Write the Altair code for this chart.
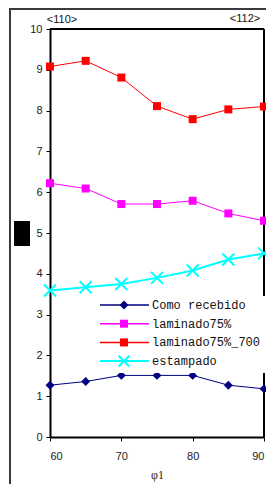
import altair as alt
import pandas as pd

phi1 = [60, 65, 70, 75, 80, 85, 90]
como_recebido = [1.27, 1.36, 1.51, 1.51, 1.51, 1.27, 1.18]
laminado75 = [6.22, 6.09, 5.71, 5.71, 5.79, 5.48, 5.30]
laminado75_700 = [9.08, 9.22, 8.81, 8.11, 7.79, 8.03, 8.10]
estampado = [3.59, 3.67, 3.75, 3.90, 4.08, 4.35, 4.50]

series_names = ["Como recebido", "laminado75%", "laminado75%_700", "estampado"]
series_values = [como_recebido, laminado75, laminado75_700, estampado]
series_colors = ["#000080", "#FF00FF", "#FF0000", "#00FFFF"]
series_shapes = ["diamond", "square", "square", "M-1,-1L1,1M1,-1L-1,1"]
series_filled = [True, True, True, False]
series_sizes = [80, 64, 64, 144]
series_line_widths = [1, 1, 1, 2]

y_ticks = list(range(0, 11))
x_ticks = [60, 70, 80, 90]
corner_labels = ["<110>", "<112>"]
x_title = "φ1"

W, H = 214, 408

xs = alt.Scale(domain=[60, 90], nice=False, zero=False)
ys = alt.Scale(domain=[0, 10], nice=False)

x_axis = alt.Axis(values=x_ticks, title=x_title, grid=False, domainColor="black",
                  domainWidth=2, tickColor="black", tickSize=4, labelFont="Liberation Sans",
                  labelFontSize=11, labelColor="#222", labelPadding=9,
                  titleFont="Liberation Serif", titleFontSize=12, titleFontWeight="normal",
                  titleColor="#222", titlePadding=8)
y_axis = alt.Axis(values=y_ticks, title=None, grid=False, domainColor="black",
                  domainWidth=2, tickColor="black", tickSize=4, labelFont="Liberation Sans",
                  labelFontSize=11, labelColor="#222", labelPadding=4)

one = pd.DataFrame({"k": [0]})

layers = []

# outer border (left, top, bottom sides; the right side lies off the page)
BORDER = "#3a3a3a"
layers.append(alt.Chart(one).mark_rule(color=BORDER, strokeWidth=2).encode(
    x=alt.value(-40), y=alt.value(-20), y2=alt.value(456)))
layers.append(alt.Chart(one).mark_rule(color=BORDER, strokeWidth=2).encode(
    x=alt.value(-41), x2=alt.value(W + 2), y=alt.value(-20)))
layers.append(alt.Chart(one).mark_rule(color=BORDER, strokeWidth=2).encode(
    x=alt.value(-41), x2=alt.value(W + 2), y=alt.value(456)))

# top and right frame lines
layers.append(alt.Chart(one).mark_rule(color="black", strokeWidth=2).encode(
    x=alt.value(0), x2=alt.value(W), y=alt.value(0)))
layers.append(alt.Chart(one).mark_rule(color="black", strokeWidth=2).encode(
    x=alt.value(W), y=alt.value(0), y2=alt.value(H)))

# data
first = True
for name, vals, col, shp, fil, sz, lw in zip(series_names, series_values, series_colors,
                                            series_shapes, series_filled, series_sizes,
                                            series_line_widths):
    df = pd.DataFrame({"phi1": phi1, "v": vals, "s": name})
    if first:
        xenc = alt.X("phi1:Q", scale=xs, axis=x_axis)
        yenc = alt.Y("v:Q", scale=ys, axis=y_axis)
    else:
        xenc = alt.X("phi1:Q", scale=xs)
        yenc = alt.Y("v:Q", scale=ys)
    first = False
    layers.append(alt.Chart(df).mark_line(color=col, strokeWidth=lw).encode(x=xenc, y=yenc))
    if fil:
        pt = alt.Chart(df).mark_point(shape=shp, filled=True, size=sz, color=col, opacity=1)
    else:
        pt = alt.Chart(df).mark_point(shape=shp, filled=False, size=sz, color=col,
                                      strokeWidth=2, opacity=1)
    layers.append(pt.encode(x=alt.X("phi1:Q", scale=xs), y=alt.Y("v:Q", scale=ys)))

# legend background (white box)
layers.append(alt.Chart(one).mark_rect(fill="white").encode(
    x=alt.value(47), x2=alt.value(W + 2), y=alt.value(267), y2=alt.value(344)))

# legend items
for i, (name, col, shp, fil, sz, lw) in enumerate(zip(series_names, series_colors, series_shapes,
                                                      series_filled, series_sizes,
                                                      series_line_widths)):
    yy = 276 + i * 18.7
    layers.append(alt.Chart(one).mark_rule(color=col, strokeWidth=1.5 if lw == 1 else 2).encode(
        x=alt.value(50), x2=alt.value(99), y=alt.value(yy)))
    if fil:
        pt = alt.Chart(one).mark_point(shape=shp, filled=True, size=sz, color=col, opacity=1)
    else:
        pt = alt.Chart(one).mark_point(shape=shp, filled=False, size=sz * 0.8, color=col,
                                       strokeWidth=2, opacity=1)
    layers.append(pt.encode(x=alt.value(74), y=alt.value(yy)))
    layers.append(alt.Chart(one).mark_text(text=name, align="left", baseline="middle",
                                           font="Liberation Mono", fontSize=12,
                                           color="#111").encode(
        x=alt.value(102), y=alt.value(yy)))

# corner labels
layers.append(alt.Chart(one).mark_text(text=corner_labels[0], align="center", baseline="middle",
                                       font="Liberation Sans", fontSize=11, color="#111").encode(
    x=alt.value(12), y=alt.value(-9)))
layers.append(alt.Chart(one).mark_text(text=corner_labels[1], align="center", baseline="middle",
                                       font="Liberation Sans", fontSize=11, color="#111").encode(
    x=alt.value(195), y=alt.value(-10)))

# black block (hidden y title)
layers.append(alt.Chart(one).mark_rect(fill="black").encode(
    x=alt.value(-36), x2=alt.value(-20), y=alt.value(192), y2=alt.value(217)))

chart = alt.layer(*layers).properties(
    width=W, height=H,
    autosize=alt.AutoSizeParams(type="none"),
    padding={"left": 42, "top": 21, "right": 2, "bottom": 47},
    background="white",
).configure_view(stroke=None)

chart.save("out.html", embed_options={"renderer": "svg", "actions": False})
